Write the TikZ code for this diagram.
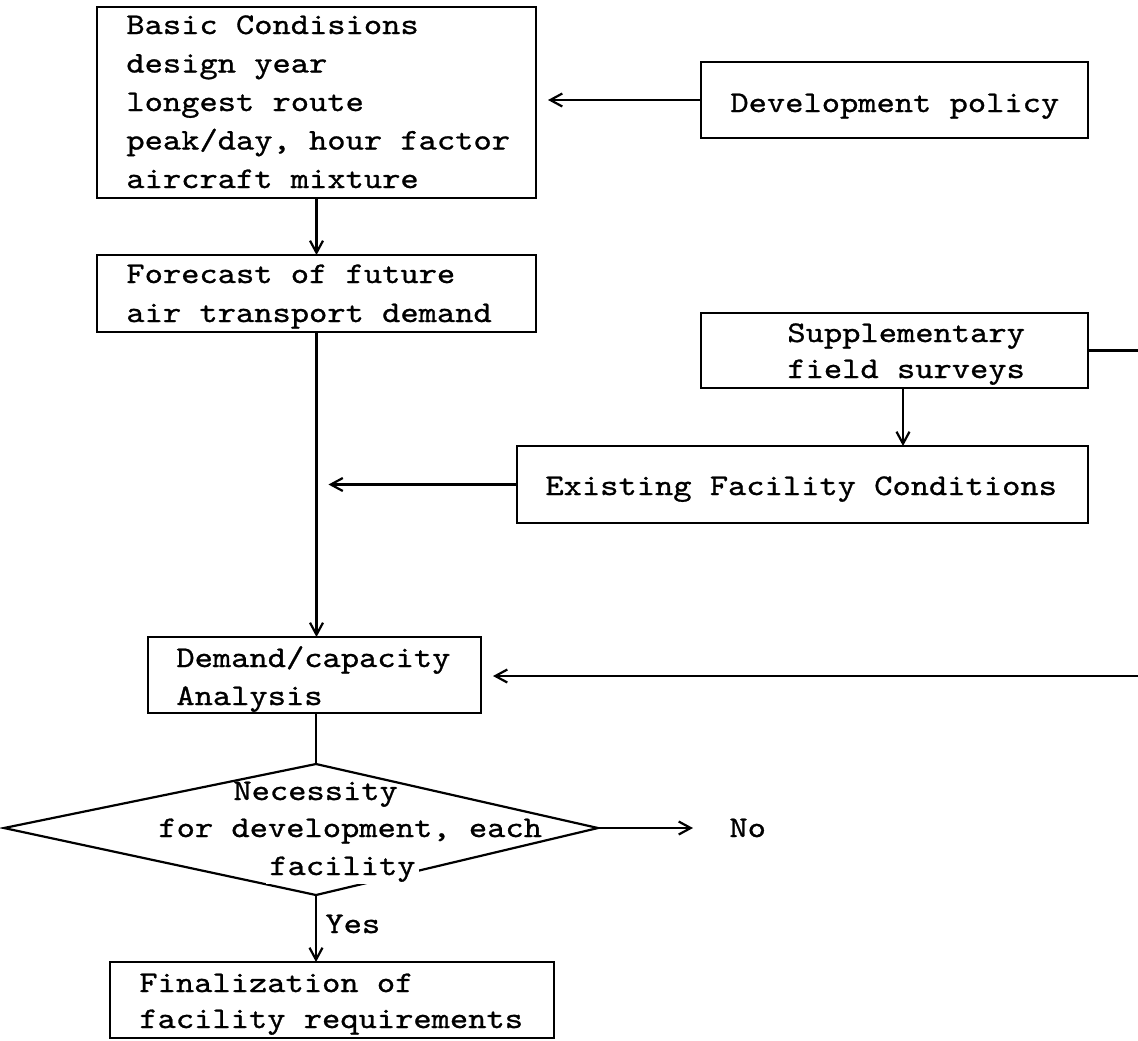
\documentclass[tikz,border=0pt]{standalone}
\usepackage{fontspec}
\newfontfamily\typerfont{lmmono10-regular.otf}[FakeStretch=1.16,FakeBold=0.9]
\usetikzlibrary{arrows.meta,calc}
\begin{document}
\begin{tikzpicture}[x=0.5pt,y=-0.5pt,
  box/.style={draw,line width=1.2pt,inner sep=0pt,outer sep=0pt,anchor=north west},
  txt/.style={font=\typerfont\fontsize{15pt}{19pt}\selectfont,anchor=base west,inner sep=0pt},
  ln/.style={line width=1.1pt},
  arr/.style={line width=1.1pt,-{Straight Barb[length=6pt,width=6.5pt,line width=1.1pt]}}]
\fill[white] (0,0) rectangle (1138,1040);
\useasboundingbox (0,0) rectangle (1138,1040);
% boxes
\node[box,minimum width=219.5pt,minimum height=95.5pt] (basic) at (97,7) {};
\node[box,minimum width=219.5pt,minimum height=38.5pt] (forecast) at (97,255) {};
\node[box,minimum width=193.5pt,minimum height=38pt] (dev) at (701,62) {};
\node[box,minimum width=193.5pt,minimum height=37.5pt] (supp) at (701,313) {};
\node[box,minimum width=285.5pt,minimum height=38.5pt] (exist) at (517,446) {};
\node[box,minimum width=166.5pt,minimum height=38pt] (demand) at (148,637) {};
\node[box,minimum width=222pt,minimum height=38pt] (final) at (110,962) {};
% diamond
\coordinate (dtop) at (316,764);
\coordinate (dright) at (598,828);
\coordinate (dbot) at (316,895);
\coordinate (dleft) at (4,828);
\draw[ln] (dtop) -- (dright) -- (dbot) -- (dleft) -- cycle;
% texts
\node[txt] (b1) at (126,34) {Basic Condisions};
\node[txt] (b2) at (126,72.5) {design year};
\node[txt] (b3) at (126,111) {longest route};
\node[txt] (b4) at (126,149.5) {peak/day, hour factor};
\node[txt] (b5) at (126,188) {aircraft mixture};
\node[txt] (f1) at (126,283) {Forecast of future};
\node[txt] (f2) at (126,322) {air transport demand};
\node[txt] (d1) at (730,112) {Development policy};
\node[txt] (s1) at (787,342) {Supplementary};
\node[txt] (s2) at (787,378) {field surveys};
\node[txt] (e1) at (545,495) {Existing Facility Conditions};
\node[txt] (c1) at (176,667) {Demand/capacity};
\node[txt] (c2) at (176,705) {Analysis};
\node[txt] (n1) at (233,800) {Necessity};
\node[txt] (n2) at (158,837) {for development, each};
\node[txt,fill=white,inner xsep=1.5pt,inner ysep=1pt] (n3) at (266,875) {facility};
\node[txt] (yes) at (325,933) {Yes};
\node[txt] (no) at (729,837) {No};
\node[txt] (g1) at (139,992) {Finalization of};
\node[txt] (g2) at (139,1028) {facility requirements};
% connectors
\draw[arr] (dev.west) -- ($(basic.east |- dev.west)+(12,0)$);
\draw[arr] (basic.south) -- (forecast.north);
\draw[arr] (forecast.south) -- (forecast.south |- demand.north);
\coordinate (rsupp) at (1138,350);
\draw[ln] (supp.east) -- (supp.east -| rsupp);
\coordinate (sa) at ($(supp.south)+(8.5,0)$);
\draw[arr] (sa) -- (sa |- exist.north);
\draw[arr] (exist.west) -- ($(forecast.south |- exist.west)+(12,0)$);
\coordinate (rdem) at (1138,676);
\draw[arr] (rdem) -- ($(demand.east |- rdem)+(12,0)$);
\draw[ln] (dtop |- demand.south) -- (dtop);
\draw[arr] (dbot) -- (dbot |- final.north);
\coordinate (noend) at (693,828);
\draw[arr] (dright) -- (noend);
\end{tikzpicture}
\end{document}
